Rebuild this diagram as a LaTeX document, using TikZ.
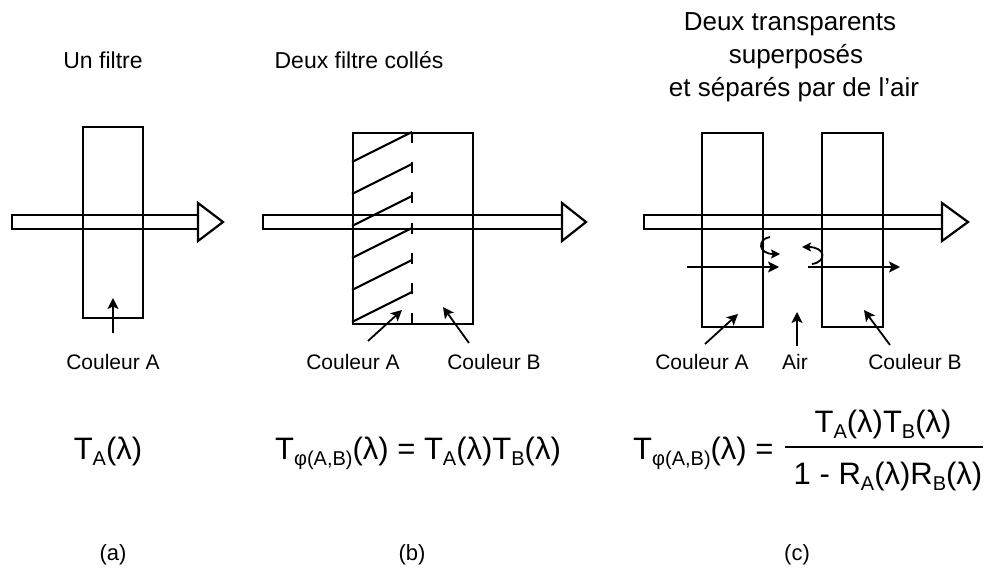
\documentclass[tikz,border=0pt]{standalone}
\usepackage{fontspec}
\setmainfont{Liberation Sans}
\usetikzlibrary{arrows.meta}
\newcommand{\lsub}[1]{\raisebox{-0.22em}{\fontsize{20}{20}\selectfont #1}}
\newcommand{\bigf}{\fontsize{31}{36}\selectfont}
\begin{document}
\begin{tikzpicture}[x=1pt,y=-1pt,
  box/.style={draw, line width=2.2pt, inner sep=0pt, anchor=north west},
  bigarrow/.style={draw, line width=2.2pt, line join=miter},
  pointer/.style={line width=1.8pt, -{Stealth[length=11pt,width=11pt,inset=2.5pt]}},
  hook/.style={line width=1.8pt, -{Stealth[length=9pt,width=9pt,inset=2pt]}},
  lab/.style={font=\fontsize{21}{24}\selectfont, anchor=base, inner sep=0pt},
  ttl/.style={font=\fontsize{23}{26}\selectfont, anchor=base, inner sep=0pt},
  ttlc/.style={font=\fontsize{26}{28}\selectfont, anchor=base, inner sep=0pt},
  eq/.style={font=\bigf, anchor=base, inner sep=0pt}]
\useasboundingbox (0,0) rectangle (985,577);

% titles
\node[ttl] (ta) at (103,69) {Un filtre};
\node[ttl] (tb) at (359,69) {Deux filtre collés};
\node[ttlc] (tc1) at (790,31) {Deux transparents};
\node[ttlc] (tc2) at (796,64) {superposés};
\node[ttlc] (tc3) at (794,97) {et séparés par de l’air};

% (a)
\node[box, minimum width=60pt, minimum height=191pt] (boxa) at (82,126) {};
\draw[bigarrow] (12,215) rectangle (198,229);
\draw[bigarrow] (198,203) -- (223,222) -- (198,241) -- cycle;
\node[lab] (laA) at (113,369) {Couleur A};
\coordinate (aS) at (113,333);
\coordinate (aT) at (113,298);
\draw[pointer] (aS) -- (aT);

% (b)
\node[box, minimum width=120pt, minimum height=191pt] (boxb) at (352,132) {};
\foreach \i in {0,...,5} {
  \draw[line width=2.2pt] (352,162+32*\i) -- (412,132+32*\i);
}
\draw[line width=2.2pt, dash pattern=on 11pt off 19.2pt] (412,132) -- (412,323);
\draw[bigarrow] (263,215) rectangle (562,229);
\draw[bigarrow] (562,203) -- (586,222) -- (562,241) -- cycle;
\node[lab] (lbA) at (353,369) {Couleur A};
\node[lab] (lbB) at (494,369) {Couleur B};
\coordinate (bAS) at (368,341);
\coordinate (bAT) at (402,310);
\coordinate (bBS) at (469,343);
\coordinate (bBT) at (443,307);
\draw[pointer] (bAS) -- (bAT);
\draw[pointer] (bBS) -- (bBT);

% (c)
\node[box, minimum width=61pt, minimum height=194pt] (boxcA) at (701,132) {};
\node[box, minimum width=61pt, minimum height=194pt] (boxcB) at (821,132) {};
\draw[bigarrow] (644,215) rectangle (942,229);
\draw[bigarrow] (942,203) -- (968,222) -- (942,241) -- cycle;
\coordinate (cL1) at (687,267);
\coordinate (cL2) at (779,267);
\coordinate (cR1) at (808,267);
\coordinate (cR2) at (900,267);
\draw[pointer] (cL1) -- (cL2);
\draw[pointer] (cR1) -- (cR2);
\coordinate (hL1) at (770,237);
\coordinate (hL2) at (780,254);
\draw[hook] (hL1) .. controls (757,239) and (758,254) .. (hL2);
\coordinate (hR1) at (812,264);
\coordinate (hR2) at (802,247);
\draw[hook] (hR1) .. controls (827,262) and (826,247) .. (hR2);
\node[lab] (lcA) at (702,369) {Couleur A};
\node[lab] (lcAir) at (795,369) {Air};
\node[lab] (lcB) at (915,369) {Couleur B};
\coordinate (cAS) at (705,344);
\coordinate (cAT) at (738,314);
\coordinate (cairS) at (797,346);
\coordinate (cairT) at (797,312);
\coordinate (cBS) at (890,345);
\coordinate (cBT) at (864,310);
\draw[pointer] (cAS) -- (cAT);
\draw[pointer] (cairS) -- (cairT);
\draw[pointer] (cBS) -- (cBT);

% formulas
\node[eq] (fa) at (108,459) {T\lsub{A}(λ)};
\node[eq] (fb) at (418,459) {T\lsub{φ(A,B)}(λ) = T\lsub{A}(λ)T\lsub{B}(λ)};
\node[eq, anchor=base west] (fc) at (633,459) {T\lsub{φ(A,B)}(λ) =};
\node[eq] (fcn) at (883,432) {T\lsub{A}(λ)T\lsub{B}(λ)};
\node[eq] (fcd) at (888,484) {1 - R\lsub{A}(λ)R\lsub{B}(λ)};
\draw[line width=2.5pt] (785,447) -- (983,447);

% sub-labels
\node[lab, font=\fontsize{22}{24}\selectfont] (sa) at (113,560) {(a)};
\node[lab, font=\fontsize{22}{24}\selectfont] (sb) at (412,560) {(b)};
\node[lab, font=\fontsize{22}{24}\selectfont] (sc) at (797,560) {(c)};
\end{tikzpicture}
\end{document}
